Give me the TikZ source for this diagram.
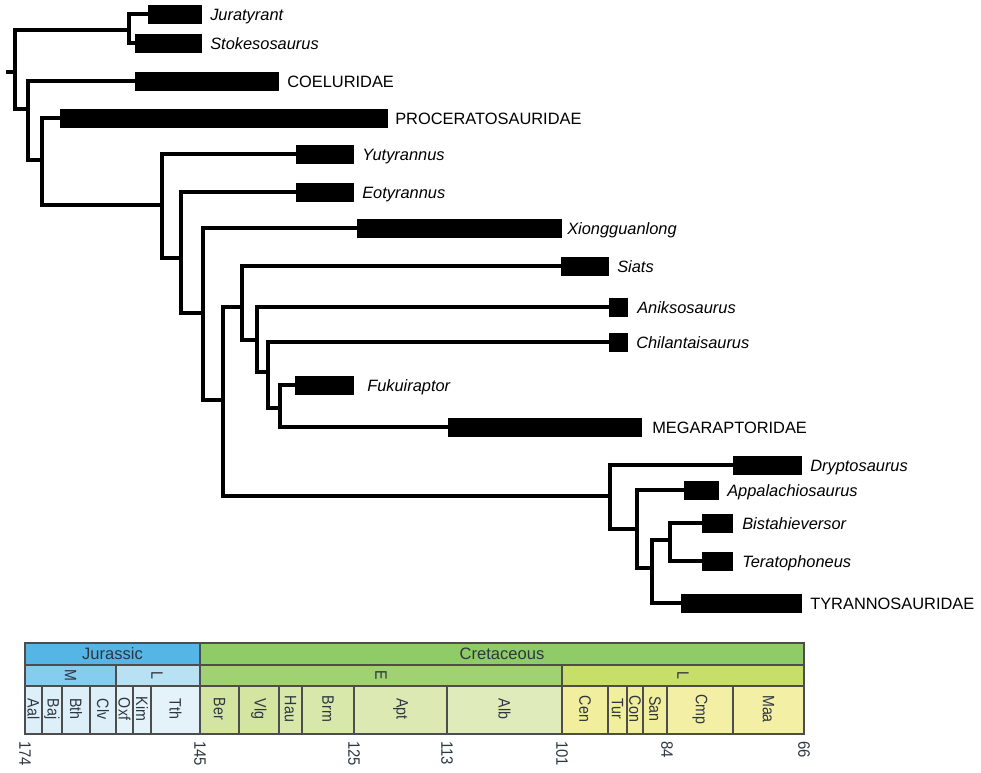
\documentclass[tikz,border=0pt]{standalone}
\usepackage{fontspec}
\setmainfont{Liberation Sans}
\definecolor{jurA}{HTML}{55B5E5}
\definecolor{jurM}{HTML}{86CCEE}
\definecolor{jurL}{HTML}{B8E1F4}
\definecolor{jurS}{HTML}{DDF0F9}
\definecolor{jurT}{HTML}{E4F3FA}
\definecolor{creA}{HTML}{8FCB67}
\definecolor{creE}{HTML}{A0D172}
\definecolor{creL}{HTML}{C8DE6A}
\definecolor{ceA}{HTML}{D4E5A2}
\definecolor{ceB}{HTML}{D8E7AA}
\definecolor{ceC}{HTML}{DCE9B2}
\definecolor{ceD}{HTML}{E0EBBB}
\definecolor{clA}{HTML}{F1EE9E}
\definecolor{clB}{HTML}{F3F0A6}
\definecolor{gridc}{HTML}{4D4D4D}
\definecolor{txt}{HTML}{2E3640}
\tikzset{
  branch/.style={line width=2.5pt, line cap=rect, line join=miter},
  bar/.style={fill=black, draw=none, inner sep=0pt, minimum height=14.25pt, anchor=west},
  taxon/.style={font=\fontsize{12.3}{14}\selectfont\itshape, anchor=base west, inner sep=0pt},
  clade/.style={font=\fontsize{12.3}{14}\selectfont, anchor=base west, inner sep=0pt},
  cellline/.style={draw=gridc, line width=0.8pt},
  period/.style={font=\fontsize{12.4}{14}\selectfont, text=txt, inner sep=0pt},
  stagelab/.style={rotate=-90, font=\fontsize{12.4}{13}\selectfont, text=txt, inner sep=0pt},
  ticklab/.style={rotate=-90, anchor=west, font=\fontsize{12.4}{13}\selectfont, text=txt, inner sep=0pt},
}
\newcommand\tbar[4]{\node[bar, minimum width={(#3-#2)*0.75pt}] (#1) at (#2,#4) {};}
\newcommand\narrow[1]{\scalebox{0.86}[1]{#1}}
\begin{document}
\begin{tikzpicture}[x=0.75pt, y=-0.75pt]
\useasboundingbox (0,0) rectangle (981,772);
% ---------- bars ----------
\tbar{jur}{148}{202}{14}
\tbar{stok}{135}{202}{43}
\tbar{coel}{135}{279}{81}
\tbar{proc}{60}{388}{118}
\tbar{yut}{296}{354}{154}
\tbar{eot}{296}{354}{192}
\tbar{xio}{357}{562}{228}
\tbar{sia}{561}{609}{266}
\tbar{ani}{609}{628}{307}
\tbar{chi}{609}{628}{342}
\tbar{fuk}{295}{354}{385}
\tbar{meg}{448}{642}{427}
\tbar{dry}{733}{802}{465}
\tbar{app}{684}{719}{490}
\tbar{bis}{702}{733}{523}
\tbar{ter}{702}{733}{561}
\tbar{tyr}{681}{802}{603}
% ---------- labels ----------
\node[taxon] (jur-l) at (210,20) {Juratyrant};
\node[taxon] (stok-l) at (210,49) {Stokesosaurus};
\node[clade] (coel-l) at (287,87) {COELURIDAE};
\node[clade] (proc-l) at (395,124) {PROCERATOSAURIDAE};
\node[taxon] (yut-l) at (362,160) {Yutyrannus};
\node[taxon] (eot-l) at (362,198) {Eotyrannus};
\node[taxon] (xio-l) at (567,234) {Xiongguanlong};
\node[taxon] (sia-l) at (617,272) {Siats};
\node[taxon] (ani-l) at (637,313) {Aniksosaurus};
\node[taxon] (chi-l) at (636,348) {Chilantaisaurus};
\node[taxon] (fuk-l) at (367,391) {Fukuiraptor};
\node[clade] (meg-l) at (652,433) {MEGARAPTORIDAE};
\node[taxon] (dry-l) at (810,471) {Dryptosaurus};
\node[taxon] (app-l) at (727,496) {Appalachiosaurus};
\node[taxon] (bis-l) at (742,529) {Bistahieversor};
\node[taxon] (ter-l) at (742,567) {Teratophoneus};
\node[clade] (tyr-l) at (810,609) {TYRANNOSAURIDAE};
% ---------- internal nodes ----------
\coordinate (stub) at (8,72);
\coordinate (root) at (15,72);
\coordinate (n1) at (129,30);
\coordinate (n2) at (28,109);
\coordinate (n3) at (42,160);
\coordinate (n4) at (162,205);
\coordinate (n5) at (181,258);
\coordinate (n6) at (203,313);
\coordinate (n7) at (223,400);
\coordinate (n8) at (242,307);
\coordinate (n9) at (257,340);
\coordinate (n10) at (268,372);
\coordinate (n11) at (280,408);
\coordinate (n12) at (610,496);
\coordinate (n13) at (637,529);
\coordinate (n14) at (652,568);
\coordinate (n15) at (670,540);
% ---------- branches ----------
\draw[branch] (stub) -- (root);
\draw[branch] (root) |- (n1);
\draw[branch] (root) |- (n2);
\draw[branch] (n1) |- (jur.west);
\draw[branch] (n1) |- (stok.west);
\draw[branch] (n2) |- (coel.west);
\draw[branch] (n2) |- (n3);
\draw[branch] (n3) |- (proc.west);
\draw[branch] (n3) |- (n4);
\draw[branch] (n4) |- (yut.west);
\draw[branch] (n4) |- (n5);
\draw[branch] (n5) |- (eot.west);
\draw[branch] (n5) |- (n6);
\draw[branch] (n6) |- (xio.west);
\draw[branch] (n6) |- (n7);
\draw[branch] (n7) |- (n8);
\draw[branch] (n7) |- (n12);
\draw[branch] (n8) |- (sia.west);
\draw[branch] (n8) |- (n9);
\draw[branch] (n9) |- (ani.west);
\draw[branch] (n9) |- (n10);
\draw[branch] (n10) |- (chi.west);
\draw[branch] (n10) |- (n11);
\draw[branch] (n11) |- (fuk.west);
\draw[branch] (n11) |- (meg.west);
\draw[branch] (n12) |- (dry.west);
\draw[branch] (n12) |- (n13);
\draw[branch] (n13) |- (app.west);
\draw[branch] (n13) |- (n14);
\draw[branch] (n14) |- (n15);
\draw[branch] (n14) |- (tyr.west);
\draw[branch] (n15) |- (bis.west);
\draw[branch] (n15) |- (ter.west);
% ---------- time scale ----------
\fill[jurA] (25,643) rectangle (200,665);
\fill[creA] (200,643) rectangle (804,665);
\fill[jurM] (25,665) rectangle (116,686);
\fill[jurL] (116,665) rectangle (200,686);
\fill[creE] (200,665) rectangle (562,686);
\fill[creL] (562,665) rectangle (804,686);
\node[period] (jurassic) at (112.5,654) {Jurassic};
\node[period] (cretaceous) at (502,654) {Cretaceous};
\node[stagelab] (epM) at (70.5,675.5) {\narrow{M}};
\node[stagelab] (epLJ) at (157,675.5) {\narrow{L}};
\node[stagelab] (epE) at (381,675.5) {\narrow{E}};
\node[stagelab] (epLK) at (683,675.5) {\narrow{L}};
\foreach \a/\b/\n/\c in {25/42/Aal/jurS, 42/62/Baj/jurS, 62/90/Bth/jurS, 90/116/Clv/jurS,
  116/133/Oxf/jurT, 133/151/Kim/jurT, 151/200/Tth/jurT,
  200/239/Ber/ceA, 239/279/Vlg/ceA, 279/302/Hau/ceB, 302/354/Brm/ceB, 354/447/Apt/ceC, 447/562/Alb/ceD,
  562/608/Cen/clA, 608/627/Tur/clA, 627/643/Con/clA, 643/667/San/clA, 667/733/Cmp/clB, 733/804/Maa/clB}{
  \fill[\c] (\a,686) rectangle (\b,734);
  \node[stagelab] (st-\n) at ({(\a+\b)/2},709) {\narrow{\n}};
  \draw[cellline] (\a,686) -- (\a,734);
}
\draw[cellline] (25,665) -- (804,665);
\draw[cellline] (25,686) -- (804,686);
\draw[cellline] (200,643) -- (200,686);
\draw[cellline] (116,665) -- (116,686);
\draw[cellline] (562,665) -- (562,686);
\draw[cellline] (25,643) rectangle (804,734);
\foreach \x/\t in {25/174, 200/145, 354/125, 447/113, 562/101, 667/84, 804/66}{
  \node[ticklab] (tk-\t) at (\x,741) {\scalebox{0.9}[1]{\t}};
}
\end{tikzpicture}
\end{document}
